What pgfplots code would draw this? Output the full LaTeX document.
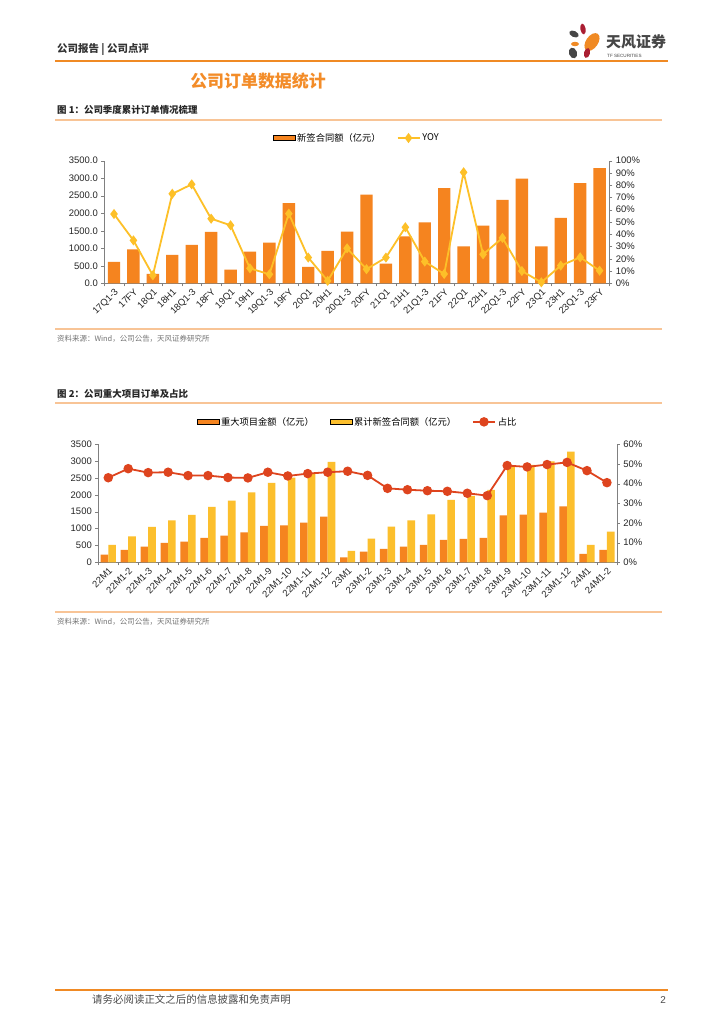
\documentclass[border=0pt]{standalone}
\usepackage{fontspec}
\setmainfont{Liberation Sans}
\newfontfamily\cjk{Noto Sans CJK SC}
\usepackage{pgfplots}
\usepackage{pgfplotstable}
\pgfplotsset{compat=1.18}

\definecolor{barorange}{RGB}{245,132,31}
\definecolor{baryellow}{RGB}{252,191,45}
\definecolor{yoyline}{RGB}{253,192,40}
\definecolor{ratiored}{RGB}{222,68,30}
\definecolor{axgray}{RGB}{128,128,128}
\definecolor{headorange}{RGB}{240,138,36}
\definecolor{lightline}{RGB}{248,196,150}
\definecolor{titleorange}{RGB}{243,140,40}
\definecolor{logored}{RGB}{170,30,50}
\definecolor{logogray}{RGB}{70,70,70}

% quarterly cumulative orders
\pgfplotstableread{
x amount yoy
0 610 56.5
1 965 35.0
2 266 6.5
3 808 73.0
4 1094 80.7
5 1465 52.7
6 390 47.3
7 903 12.2
8 1160 7.3
9 2292 56.8
10 466 21.0
11 922 2.0
12 1474 28.5
13 2530 11.5
14 561 21.0
15 1341 45.7
16 1740 17.7
17 2720 7.6
18 1056 90.5
19 1645 23.6
20 2378 37.0
21 2986 10.0
22 1056 0.8
23 1864 14.4
24 2863 21.2
25 3291 10.3
}\quarterly

% major projects vs cumulative new contracts
\pgfplotstableread{
x major cum ratio
0 227 514 43.0
1 366 771 47.6
2 465 1048 45.6
3 573 1246 45.8
4 613 1404 44.1
5 722 1641 44.1
6 791 1829 43.1
7 890 2076 42.9
8 1078 2353 45.8
9 1097 2511 43.9
10 1177 2650 45.1
11 1354 2976 45.8
12 148 336 46.3
13 316 702 44.2
14 395 1058 37.6
15 465 1246 36.9
16 514 1424 36.4
17 662 1849 36.1
18 692 1968 35.1
19 722 2145 33.9
20 1394 2857 49.2
21 1414 2887 48.5
22 1473 2996 49.7
23 1661 3283 50.8
24 247 514 46.6
25 366 910 40.5
}\monthly

\pgfplotsset{
  base/.style={
    scale only axis, xmin=-0.5, xmax=25.5,
    axis line style={axgray}, tick align=outside,
    major tick length=3bp, minor tick length=3bp,
    tick style={axgray},
    ticklabel style={font=\fontsize{9.5}{10}\selectfont, text=black!85},
    /pgf/number format/assume math mode=true,
    /pgf/number format/1000 sep={},
    scaled y ticks=false,
  },
  leftax/.style={
    base, axis y line*=left, axis x line*=bottom,
    xtick={0,...,25}, major x tick style={draw=none},
    minor xtick={-0.5,0.5,...,25.5},
    xticklabel style={rotate=45, anchor=north east, inner sep=1pt},
  },
  rightax/.style={
    base, axis y line*=right, axis x line=none,
    legend style={draw=none, fill=none, anchor=center,
      font=\cjk\fontsize{9.3}{10}\selectfont,
      /tikz/every even column/.append style={column sep=14bp}},
  },
  barlegend/.style={legend image code/.code={\fill[##1] (0bp,-2.6bp) rectangle (22bp,2.6bp);}},
  linelegend/.style={legend image code/.code={\draw[mark repeat=2,mark phase=2,##1] plot coordinates {(0bp,0bp)(11bp,0bp)(22bp,0bp)};}},
}

\begin{document}
\begin{tikzpicture}
\fill[white] (0,0) rectangle (724bp,1024bp);
\path[use as bounding box] (0,0) rectangle (724bp,1024bp);

\begin{scope}[x=1bp,y=1bp]
  % header
  \node[anchor=west, inner sep=0, text=black!80, font=\cjk\bfseries\fontsize{10.5}{12}\selectfont] at (57,974) {公司报告 | 公司点评};
  \draw[headorange, line width=1.6] (55,963) -- (668,963);
  % logo
  \fill[logogray, rotate around={-25:(574,990)}] (574,990) ellipse (5 and 3);
  \fill[logored, rotate around={10:(583,995)}] (583,995) ellipse (2.6 and 5.5);
  \fill[headorange, rotate around={-35:(592,982)}] (592,982) ellipse (6 and 10);
  \fill[headorange] (575,980) ellipse (4 and 2.2);
  \fill[logogray, rotate around={20:(573,971)}] (573,971) ellipse (4 and 5.5);
  \fill[logored, rotate around={-15:(587,971)}] (587,971) ellipse (3 and 5);
  \node[anchor=west, inner sep=0, text=logogray, font=\cjk\bfseries\fontsize{15}{16}\selectfont] at (606,982) {天风证券};
  \node[anchor=west, inner sep=0, text=logogray, font=\fontsize{4.6}{5}\selectfont] at (607,968) {TF SECURITIES};
  % title
  \node[text=titleorange, inner sep=0, font=\cjk\bfseries\fontsize{17}{19}\selectfont] at (258,943) {公司订单数据统计};
  % figure 1 frame
  \node[anchor=west, inner sep=0, text=black!85, font=\cjk\bfseries\fontsize{9.5}{11}\selectfont] at (57,914) {图 1：公司季度累计订单情况梳理};
  \draw[lightline, line width=1.1] (55,904) -- (662,904);
  \draw[lightline, line width=1.1] (55,695) -- (662,695);
  \node[anchor=west, inner sep=0, text=black!55, font=\cjk\fontsize{7.5}{9}\selectfont] at (57,685) {资料来源：Wind，公司公告，天风证券研究所};
  % figure 2 frame
  \node[anchor=west, inner sep=0, text=black!85, font=\cjk\bfseries\fontsize{9.5}{11}\selectfont] at (57,630) {图 2：公司重大项目订单及占比};
  \draw[lightline, line width=1.1] (55,621) -- (662,621);
  \draw[lightline, line width=1.1] (55,412) -- (662,412);
  \node[anchor=west, inner sep=0, text=black!55, font=\cjk\fontsize{7.5}{9}\selectfont] at (57,402) {资料来源：Wind，公司公告，天风证券研究所};
  % footer
  \draw[headorange, line width=1.6] (55,34) -- (668,34);
  \node[anchor=west, inner sep=0, text=black!70, font=\cjk\fontsize{10.5}{12}\selectfont] at (92,24) {请务必阅读正文之后的信息披露和免责声明};
  \node[anchor=east, inner sep=0, text=black!70, font=\fontsize{10}{12}\selectfont] at (666,24) {2};
\end{scope}

% ---- chart 1 ----
\begin{axis}[leftax, at={(104.3bp,740.7bp)}, anchor=south west,
  width=505bp, height=122.6bp,
  ymin=0, ymax=3500, ytick={0,500,...,3500},
  /pgf/number format/fixed, /pgf/number format/fixed zerofill, /pgf/number format/precision=1,
  xticklabels={17Q1-3,17FY,18Q1,18H1,18Q1-3,18FY,19Q1,19H1,19Q1-3,19FY,20Q1,20H1,20Q1-3,20FY,21Q1,21H1,21Q1-3,21FY,22Q1,22H1,22Q1-3,22FY,23Q1,23H1,23Q1-3,23FY},
]
\addplot[ybar, bar width=12.4bp, bar shift=0pt, fill=barorange, draw=none] table[x=x, y=amount] {\quarterly};
\end{axis}
\begin{axis}[rightax, at={(104.3bp,740.7bp)}, anchor=south west,
  width=505bp, height=122.6bp,
  ymin=0, ymax=100, ytick={0,10,...,100},
  yticklabel={\pgfmathprintnumber{\tick}\%},
  legend columns=2, legend style={at={(0.5,1.185)}},
]
\addlegendimage{barlegend, fill=barorange}
\addlegendentry{新签合同额（亿元）}
\addplot[linelegend, color=yoyline, line width=1.8bp, mark=diamond*, mark size=3.6bp] table[x=x, y=yoy] {\quarterly};
\addlegendentry{YOY}
\end{axis}

% ---- chart 2 ----
\begin{axis}[leftax, at={(98.3bp,461.7bp)}, anchor=south west,
  width=518.6bp, height=118bp,
  ymin=0, ymax=3500, ytick={0,500,...,3500},
  ybar=0pt, bar width=7.6bp,
  xticklabels={22M1,22M1-2,22M1-3,22M1-4,22M1-5,22M1-6,22M1-7,22M1-8,22M1-9,22M1-10,22M1-11,22M1-12,23M1,23M1-2,23M1-3,23M1-4,23M1-5,23M1-6,23M1-7,23M1-8,23M1-9,23M1-10,23M1-11,23M1-12,24M1,24M1-2},
]
\addplot[fill=barorange, draw=none] table[x=x, y=major] {\monthly};
\addplot[fill=baryellow, draw=none] table[x=x, y=cum] {\monthly};
\end{axis}
\begin{axis}[rightax, at={(98.3bp,461.7bp)}, anchor=south west,
  width=518.6bp, height=118bp,
  ymin=0, ymax=60, ytick={0,10,...,60},
  yticklabel={\pgfmathprintnumber{\tick}\%},
  legend columns=3, legend style={at={(0.5,1.19)}},
]
\addlegendimage{barlegend, fill=barorange}
\addlegendentry{重大项目金额（亿元）}
\addlegendimage{barlegend, fill=baryellow}
\addlegendentry{累计新签合同额（亿元）}
\addplot[linelegend, color=ratiored, line width=1.8bp, mark=*, mark size=3.8bp] table[x=x, y=ratio] {\monthly};
\addlegendentry{占比}
\end{axis}
\end{tikzpicture}
\end{document}
